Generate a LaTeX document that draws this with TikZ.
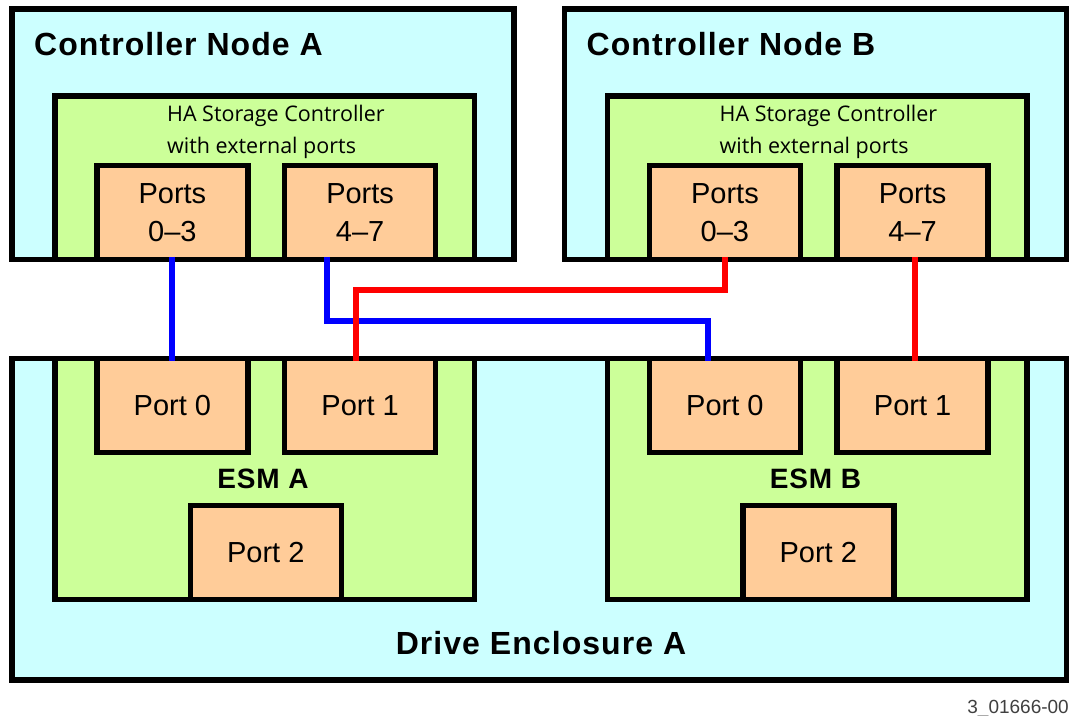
\documentclass[tikz,border=0pt]{standalone}
\usepackage{fontspec}
\setmainfont{Liberation Sans}
\newfontfamily\hafont{Open Sans}
\definecolor{shellfill}{HTML}{CCFFFF}
\definecolor{modfill}{HTML}{CCFF99}
\definecolor{portfill}{HTML}{FFCC99}
\definecolor{idgray}{HTML}{404040}
\begin{document}
\begin{tikzpicture}[x=1pt,y=-1pt,
  box/.style={draw=black, line width=5.5pt, rectangle, inner sep=0pt, outer sep=0pt},
  shell/.style={box, fill=shellfill},
  module/.style={box, fill=modfill},
  portbox/.style={box, fill=portfill, minimum width=151pt, minimum height=94pt,
    align=center, font=\fontsize{29}{38}\selectfont},
  title/.style={font=\bfseries\addfontfeature{LetterSpace=3.3}\fontsize{32}{32}\selectfont},
  hatext/.style={anchor=base west, inner xsep=0pt, font=\hafont\fontsize{21.5}{21.5}\selectfont},
  cable/.style={line width=6pt, shorten <=-2.5pt, shorten >=-2.5pt}]
\useasboundingbox (0,0) rectangle (1070,715);

% controller nodes
\node[shell, minimum width=502pt, minimum height=250.5pt] (ctrlA) at (263,134.25) {};
\node[shell, minimum width=502pt, minimum height=250.5pt] (ctrlB) at (815.5,134.25) {};
\node[module, minimum width=419.5pt, minimum height=163.5pt] (haA) at (264.75,177.75) {};
\node[module, minimum width=419.5pt, minimum height=163.5pt] (haB) at (817.25,177.75) {};
\node[portbox] (pa03) at (172.4,212.25) {Ports\\0--3};
\node[portbox] (pa47) at (360.1,212.25) {Ports\\4--7};
\node[portbox] (pb03) at (724.9,212.25) {Ports\\0--3};
\node[portbox] (pb47) at (912.6,212.25) {Ports\\4--7};
\node[title, anchor=base west, inner xsep=0pt] (tA) at (34,55) {Controller Node A};
\node[title, anchor=base west, inner xsep=0pt] (tB) at (586.5,55) {Controller Node B};
\node[hatext] (haA1) at (167,121.7) {HA Storage Controller};
\node[hatext] (haA2) at (167,153) {with external ports};
\node[hatext] (haB1) at (719.5,121.7) {HA Storage Controller};
\node[hatext] (haB2) at (719.5,153) {with external ports};

% drive enclosure
\node[shell, minimum width=1054.5pt, minimum height=321.5pt] (encl) at (539.25,519.25) {};
\node[module, minimum width=419.5pt, minimum height=241pt] (esmA) at (264.75,479) {};
\node[module, minimum width=419.5pt, minimum height=241pt] (esmB) at (817.25,479) {};
\node[portbox] (pa0) at (172.4,405.5) {Port 0};
\node[portbox] (pa1) at (360.1,405.5) {Port 1};
\node[portbox] (pa2) at (265.75,552.5) {Port 2};
\node[portbox] (pb0) at (724.9,405.5) {Port 0};
\node[portbox] (pb1) at (912.6,405.5) {Port 1};
\node[portbox] (pb2) at (818.25,552.5) {Port 2};
\node[title, anchor=base, font=\bfseries\addfontfeature{LetterSpace=3.3}\fontsize{28}{28}\selectfont] (lesmA) at (263,488) {ESM A};
\node[title, anchor=base, font=\bfseries\addfontfeature{LetterSpace=3.3}\fontsize{28}{28}\selectfont] (lesmB) at (815.5,488) {ESM B};
\node[title, anchor=base] (lencl) at (541,654) {Drive Enclosure A};
\node[anchor=base east, inner xsep=0pt, text=idgray, font=\fontsize{19}{19}\selectfont] (figid) at (1069,713) {3\_01666-00};

% cabling
\draw[cable, blue] (pa03.south) -- (pa0.north);
\draw[cable, blue] ([xshift=-33pt]pa47.south) -- ++(0,61.5) -| ([xshift=-17pt]pb0.north);
\draw[cable, red] (pb03.south) -- ++(0,30.5) -| ([xshift=-4pt]pa1.north);
\draw[cable, red] ([xshift=2pt]pb47.south) -- ([xshift=2pt]pb1.north);
\end{tikzpicture}
\end{document}
